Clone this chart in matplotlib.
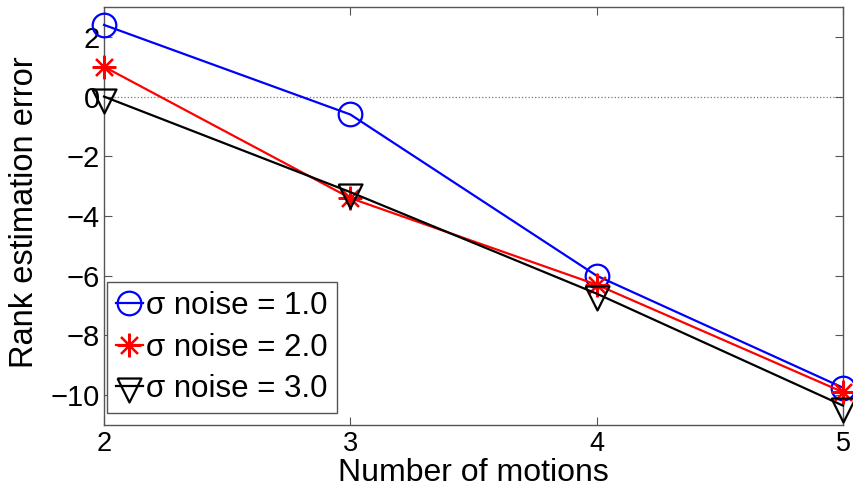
import matplotlib
matplotlib.use("Agg")
import matplotlib.pyplot as plt

plt.rcParams['font.family'] = ['Liberation Sans', 'DejaVu Sans']

motions = [2, 3, 4, 5]
err_noise1 = [2.4, -0.6, -6.0, -9.75]
err_noise2 = [1.0, -3.4, -6.3, -9.9]
err_noise3 = [0.0, -3.2, -6.6, -10.35]
labels = ['σ noise = 1.0', 'σ noise = 2.0', 'σ noise = 3.0']

# downward triangle whose centroid sits on the data point
tri_down = [(-1, 2 / 3), (1, 2 / 3), (0, -4 / 3), (-1, 2 / 3)]

fig = plt.figure(figsize=(8.54, 4.93), dpi=100)
ax = fig.add_axes([0.1218, 0.1379, 0.8653, 0.8479])

ax.axhline(0, color='#777777', linestyle=':', linewidth=0.9, zorder=1)

common = dict(linewidth=1.6, markeredgewidth=1.6, clip_on=False, zorder=3)
ax.plot(motions, err_noise1, color='#0000ff', marker='o', markersize=17,
        markerfacecolor='none', label=labels[0], **common)
ax.plot(motions, err_noise2, color='#ff0000', marker=(8, 2, 0), markersize=17,
        label=labels[1], **common)
ax.plot(motions, err_noise3, color='#000000', marker=tri_down, markersize=23,
        markerfacecolor='none', label=labels[2], **common)

ax.set_xlim(2, 5)
ax.set_ylim(-11, 3)
ax.set_xticks(motions)
ax.set_yticks([-10, -8, -6, -4, -2, 0, 2])
ax.set_yticklabels(['\u221210', '\u22128', '\u22126', '\u22124', '\u22122', '0', '2'])

for sp in ax.spines.values():
    sp.set_color('#555555')
    sp.set_linewidth(1.0)
ax.tick_params(direction='in', length=6, width=0.8, color='#555555',
               top=True, right=True)
ax.tick_params(axis='x', pad=4, labelsize=19.5)
ax.tick_params(axis='y', pad=3, labelsize=21)

ax.set_xlabel('Number of motions', fontsize=23)
ax.set_ylabel('Rank estimation error', fontsize=23.5)
ax.xaxis.set_label_coords(0.5, -0.08)
ax.yaxis.set_label_coords(-0.087, 0.51)

leg = ax.legend(loc='lower left', bbox_to_anchor=(0.0037, 0.028),
                borderaxespad=0, fontsize=22.5, handlelength=0.85,
                handletextpad=0.12, borderpad=0.3, labelspacing=0.36,
                fancybox=False, framealpha=1)
leg.get_frame().set_edgecolor('#555555')
leg.get_frame().set_linewidth(1.0)

fig.savefig('out.png', dpi=100)
